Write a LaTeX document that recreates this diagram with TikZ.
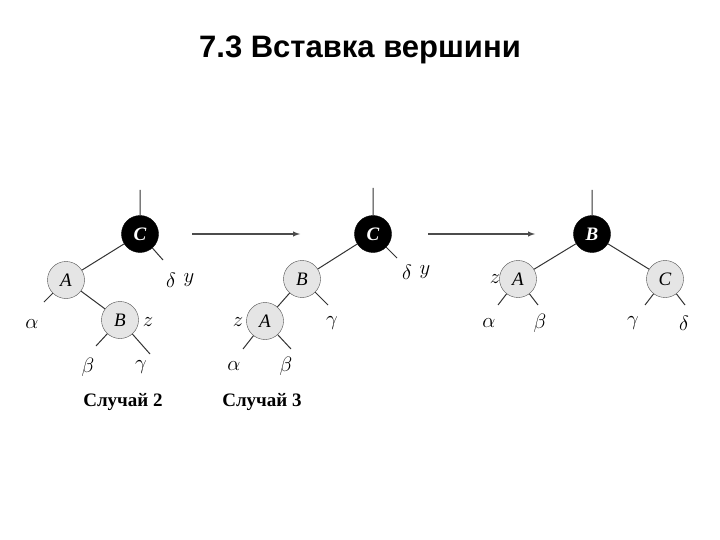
\documentclass[tikz,border=0pt]{standalone}
\usepackage{fontspec}
\setmainfont{Liberation Serif}
\newfontfamily\titlefont{Liberation Sans}
\newcommand{\fsz}[1]{\fontsize{#1}{#1}\selectfont}
\begin{document}
\begin{tikzpicture}[x=1pt,y=-1pt,
  red/.style={circle,draw=black!70,fill=black!10,minimum size=37pt,inner sep=0pt,font=\itshape\fsz{19}},
  blk/.style={circle,draw=black,fill=black,text=white,minimum size=37pt,inner sep=0pt,font=\bfseries\itshape\fsz{19}},
  lbl/.style={font=\itshape\fsz{20}},
  edge/.style={draw=black!80,line width=1pt},
  arr/.style={draw=black!70,line width=1.4pt,-latex}]
\useasboundingbox (0,0) rectangle (720,540);
\node[font=\titlefont\bfseries\fsz{31}] (title) at (360,50) {7.3 Вставка вершини};
% tree 1
\node[blk] (c1) at (140,234) {C};
\node[red] (a1) at (66,280) {A};
\node[red] (b1) at (120,320) {B};
\coordinate (r1) at (140,190);
\coordinate (d1e) at (163,260);
\coordinate (al1e) at (44,302);
\coordinate (be1e) at (96,346);
\coordinate (ga1e) at (150,354);
\node[lbl] (al1) at (32,324) {$\alpha$};
\node[lbl] (be1) at (88,367) {$\beta$};
\node[lbl] (ga1) at (141,367) {$\gamma$};
\node[lbl] (de1) at (171,280) {$\delta$};
\node[lbl] (y1) at (189,280) {$y$};
\node[lbl] (z1) at (148,322) {$z$};
\draw[edge] (r1)--(c1) (c1)--(a1) (a1)--(b1) (c1)--(d1e) (a1)--(al1e) (b1)--(be1e) (b1)--(ga1e);
\coordinate (p1) at (192,234); \coordinate (q1) at (300,234);
\draw[arr] (p1)--(q1);
% tree 2
\node[blk] (c2) at (373,234) {C};
\node[red] (b2) at (302,279) {B};
\node[red] (a2) at (265,321) {A};
\coordinate (r2) at (373,188);
\coordinate (d2e) at (397,258);
\coordinate (g2e) at (328,305);
\coordinate (al2e) at (243,349);
\coordinate (be2e) at (291,349);
\node[lbl] (de2) at (407,272) {$\delta$};
\node[lbl] (y2) at (425,272) {$y$};
\node[lbl] (g2) at (332,323) {$\gamma$};
\node[lbl] (z2) at (238,322) {$z$};
\node[lbl] (al2) at (234,366) {$\alpha$};
\node[lbl] (be2) at (286,366) {$\beta$};
\draw[edge] (r2)--(c2) (c2)--(b2) (b2)--(a2) (c2)--(d2e) (b2)--(g2e) (a2)--(al2e) (a2)--(be2e);
\coordinate (p2) at (428,234); \coordinate (q2) at (535,234);
\draw[arr] (p2)--(q2);
% tree 3
\node[blk] (b3) at (592,234) {B};
\node[red] (a3) at (518,279) {A};
\node[red] (c3) at (665,279) {C};
\coordinate (r3) at (592,190);
\coordinate (al3e) at (498,305); \coordinate (be3e) at (538,305);
\coordinate (ga3e) at (645,305); \coordinate (de3e) at (685,305);
\node[lbl] (z3) at (495,279) {$z$};
\node[lbl] (al3) at (489,323) {$\alpha$};
\node[lbl] (be3) at (540,323) {$\beta$};
\node[lbl] (ga3) at (633,323) {$\gamma$};
\node[lbl] (de3) at (684,323) {$\delta$};
\draw[edge] (r3)--(b3) (b3)--(a3) (b3)--(c3) (a3)--(al3e) (a3)--(be3e) (c3)--(ga3e) (c3)--(de3e);
% captions
\node[font=\bfseries\fsz{19}] (cap2) at (123,402) {Случай 2};
\node[font=\bfseries\fsz{19}] (cap3) at (262,402) {Случай 3};
\end{tikzpicture}
\end{document}
